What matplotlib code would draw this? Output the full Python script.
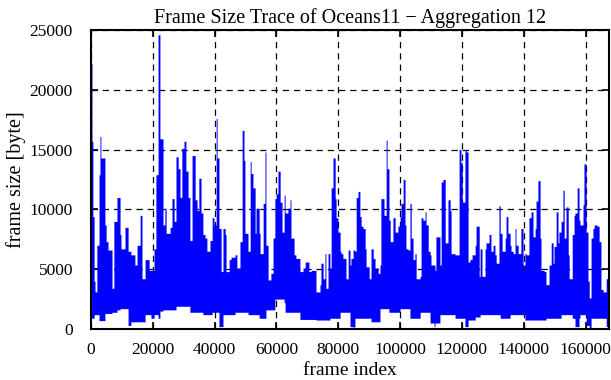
import numpy as np
import matplotlib
matplotlib.use('Agg')
import matplotlib.pyplot as plt

# frame index where each block of the trace starts
frame_start = [
    0, 300, 600, 1000, 1300, 1900, 2600, 2900, 3200, 4500, 4900, 5500, 6800, 7400,
    8400, 9400, 9700, 11000, 12000, 12900, 14200, 14900, 15900, 16500, 17500, 18800,
    19400, 20400, 21000, 21700, 22300, 23300, 23900, 24300, 25600, 26200, 26900,
    27500, 28200, 28800, 29400, 30100, 30700, 31400, 32000, 32700, 33700, 34300,
    34900, 35600, 36200, 36900, 37500, 38500, 39200, 39800, 40500, 40800, 41400,
    42100, 42700, 43400, 43700, 44700, 45300, 46600, 47200, 48200, 48900, 49500,
    49800, 50800, 51500, 51800, 52400, 53100, 53400, 54400, 54700, 55700, 56300,
    56600, 57300, 58200, 58900, 59500, 59900, 60500, 61200, 61800, 62500, 62800,
    63700, 64400, 64700, 65700, 66300, 67600, 68600, 69300, 70500, 71200, 72800,
    74100, 74400, 75100, 75700, 76000, 76700, 77300, 77700, 78300, 79000, 79300,
    79900, 80600, 80900, 81500, 82500, 83200, 83800, 84100, 84800, 85100, 85400,
    85800, 86400, 87000, 87400, 88000, 88700, 89000, 90000, 90600, 91300, 91900,
    92900, 93500, 93800, 94800, 95500, 95800, 96400, 96800, 97700, 98400, 99300,
    100000, 100300, 101000, 101600, 101900, 102600, 103200, 103600, 104200, 104800,
    105200, 106500, 106800, 107400, 108100, 108400, 109100, 109700, 110000, 111000,
    111300, 111600, 112900, 113300, 113900, 114600, 115500, 116200, 116500, 117800,
    119100, 119700, 120100, 121000, 121400, 122000, 122600, 123300, 124300, 124600,
    125600, 125900, 126500, 127500, 127800, 128800, 129400, 130100, 130700, 131100,
    132000, 132400, 133000, 134000, 134300, 134900, 135600, 135900, 136600, 137200,
    137500, 138200, 139100, 139800, 140400, 140800, 141700, 142400, 143000, 143700,
    144000, 144600, 145300, 145600, 146600, 147200, 148200, 148900, 149500, 149800,
    150500, 151100, 151400, 152100, 152700, 153100, 153700, 154400, 154700, 155700,
    156300, 156600, 157300, 157900, 158200, 159200, 159500, 160200, 160800, 161200,
    161800, 162400, 162800, 163700, 164400, 165000, 165700, 166700, 167300,
]
# largest frame size inside each block [byte]
size_max = [
    22200, 15700, 9400, 4000, 3100, 7000, 12900, 16100, 14300, 8700, 7300, 6600, 3400, 9000,
    11000, 7900, 6700, 8500, 6500, 6200, 5350, 7000, 9500, 4200, 5800, 4900,
    4900, 6700, 12900, 24600, 15900, 8700, 10100, 8000, 8500, 10900, 9000,
    14400, 13400, 11000, 15100, 15700, 13200, 11000, 7400, 14500, 10800, 9900,
    12600, 9700, 7900, 7600, 6500, 7400, 9300, 8700, 17600, 14300, 8400,
    4800, 8400, 7900, 4800, 5800, 6000, 6200, 5100, 7300, 16600, 14100,
    8000, 6500, 14000, 13000, 11800, 8000, 10100, 8000, 6300, 10500, 14800,
    7000, 4100, 4650, 7600, 10900, 11300, 13200, 10600, 8100, 11200, 9700,
    10100, 10800, 7600, 6200, 5900, 4800, 5100, 5600, 4800, 4900, 3100,
    3700, 5500, 4200, 6300, 3400, 6300, 5100, 11800, 14300, 10900, 9300,
    8100, 6500, 6300, 5900, 4200, 6600, 5350, 5900, 6600, 6600, 6500,
    11000, 11500, 9400, 8600, 8400, 6700, 5200, 4200, 6700, 5900, 5100,
    4650, 5350, 10900, 9500, 15800, 13400, 9100, 7300, 9300, 8100, 8600,
    9400, 10500, 12500, 8700, 6700, 6600, 10500, 7600, 5800, 6300,
    4200, 4400, 9300, 9100, 9800, 8700, 6500, 6200, 5350, 5350,
    4900, 7700, 5350, 12300, 12500, 7200, 10800, 9900, 6300, 6200,
    15000, 13900, 10600, 15000, 14800, 5600, 5800, 6200, 7000, 8600,
    4400, 6700, 4400, 6700, 7200, 7900, 6500, 7000, 6200, 5500,
    10300, 8000, 6500, 7600, 9400, 8000, 7000, 6500, 6300, 8400,
    7000, 6300, 8400, 5350, 6300, 6200, 9300, 9800, 7700, 8400,
    10700, 12400, 7600, 4900, 4800, 3700, 5350, 7200, 5500, 6900,
    9800, 7200, 8100, 9000, 11600, 7600, 10200, 6200, 4200, 7900,
    9500, 9700, 11800, 9100, 8700, 10400, 13800, 8100, 4000, 2600,
    7600, 8400, 8700, 8600, 7300, 3300, 3100, 4200, 3400,
]
# smallest frame size inside each block [byte]
size_min = [
    900, 900, 900, 1200, 1200, 1200, 700, 700, 700, 1300, 1300, 1300, 1400, 1400,
    1600, 1700, 1700, 1700, 300, 600, 600, 600, 600, 600, 1200, 1200,
    900, 1200, 1200, 900, 1500, 1600, 1600, 1600, 1600, 1600, 1600,
    1900, 1900, 1900, 1900, 1900, 1900, 1900, 1400, 1400, 1400, 1400,
    1400, 1400, 1200, 1200, 1200, 1200, 1400, 1400, 1400, 1400, 200,
    200, 1200, 1200, 1200, 1200, 1200, 1400, 1400, 1400, 1400, 1400,
    1400, 1200, 1200, 1200, 1200, 1200, 1200, 900, 900, 900, 900,
    1600, 1600, 1600, 1600, 2500, 2500, 2500, 2500, 2500, 2200, 1400,
    1400, 1400, 1400, 1400, 1400, 800, 800, 800, 800, 800, 750,
    750, 750, 750, 750, 750, 750, 900, 900, 900, 900, 900,
    900, 1400, 1400, 1400, 1400, 1400, 200, 200, 0, 200, 900,
    900, 900, 900, 900, 900, 900, 900, 900, 600, 600, 600,
    600, 1700, 1700, 1700, 1700, 1700, 1400, 1400, 1400, 1400, 1400,
    1700, 1700, 1700, 1700, 1700, 1700, 900, 900, 900, 900,
    900, 1400, 1400, 1400, 1400, 1400, 1400, 500, 500, 200,
    500, 500, 1200, 1200, 1200, 1200, 1200, 1200, 1200, 900,
    900, 900, 900, 200, 200, 750, 750, 750, 1000, 1000,
    1000, 1200, 1200, 1200, 1200, 1200, 1200, 1200, 1200, 1200,
    1200, 900, 900, 900, 900, 900, 1200, 1200, 1200, 1200,
    1200, 1200, 1200, 1200, 750, 750, 750, 750, 750, 750,
    750, 750, 750, 750, 750, 900, 900, 900, 900, 900,
    900, 900, 900, 1200, 1200, 1200, 1200, 1200, 1200, 900,
    900, 200, 200, 900, 1200, 1200, 1200, 300, 300, 0,
    900, 900, 900, 900, 900, 900, 900, 200, 200,
]
last_frame = 167600

xticks = [0, 20000, 40000, 60000, 80000, 100000, 120000, 140000, 160000]
yticks = [0, 5000, 10000, 15000, 20000, 25000]

plt.rcParams['font.family'] = ['Liberation Serif', 'DejaVu Serif']

fig = plt.figure(figsize=(6.11, 3.80), dpi=100)
ax = fig.add_axes([91 / 611, 51 / 380, 518 / 611, 299 / 380])

x = np.append(frame_start, last_frame)
hi = np.append(size_max, size_max[-1])
lo = np.append(size_min, size_min[-1])
ax.fill_between(x, lo, hi, step='post', color='#0000ff', linewidth=0, zorder=2)

ax.set_xlim(0, last_frame)
ax.set_ylim(0, 25000)
ax.set_xticks(xticks)
ax.set_yticks(yticks)
ax.set_xticklabels([str(v) for v in xticks])
ax.set_yticklabels([str(v) for v in yticks])
ax.tick_params(direction='in', length=5, width=1.2, top=True, right=True,
               labelsize=12.5, color='black')
ax.tick_params(axis='y', pad=13)
ax.tick_params(axis='x', pad=9)
ax.grid(True, color='black', linestyle=(0, (5, 4)), linewidth=0.9, zorder=1)
ax.set_axisbelow(True)
for s in ax.spines.values():
    s.set_linewidth(1.5)
    s.set_zorder(3)

ax.set_title('Frame Size Trace of Oceans11 \u2212 Aggregation 12', fontsize=14.5, pad=5)
ax.set_xlabel('frame index', fontsize=14, labelpad=3)
ax.set_ylabel('frame size [byte]', fontsize=14.5, labelpad=3)

fig.savefig('out.png', dpi=100)
